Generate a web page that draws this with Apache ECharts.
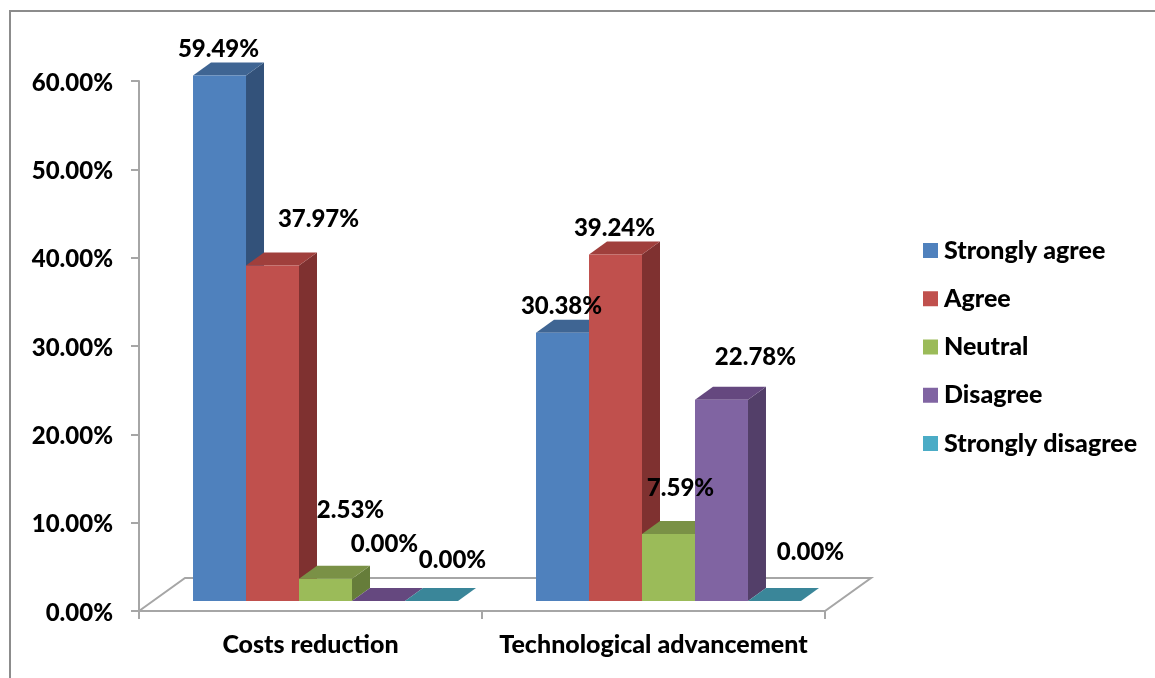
<!DOCTYPE html>
<html><head><meta charset="utf-8">
<style>html,body{margin:0;padding:0;background:#fff}#c{width:1155px;height:678px}</style>
<script src="https://cdn.jsdelivr.net/npm/echarts@6/dist/echarts.min.js"></script>
</head><body><div id="c"></div>
<script>
const categories = ['Costs reduction', 'Technological advancement'];
const yTicks = [0, 10, 20, 30, 40, 50, 60];
const stronglyAgree = [59.49, 30.38];
const agree = [37.97, 39.24];
const neutral = [2.53, 7.59];
const disagree = [0.00, 22.78];
const stronglyDisagree = [0.00, 0.00];

const names = ['Strongly agree', 'Agree', 'Neutral', 'Disagree', 'Strongly disagree'];
const values = [stronglyAgree, agree, neutral, disagree, stronglyDisagree];
const fronts = ['#4f81bd', '#c0504d', '#9bbb59', '#8064a2', '#4bacc6'];
const tops = ['#3f6593', '#a03f3c', '#7a9146', '#65487f', '#3a8699'];
const sides = ['#33527a', '#7f3130', '#667d3a', '#533f69', '#2f6f80'];
// hand placement of each data label relative to its bar's front-top centre
const labelShift = [
  [[-1, -26], [-1, -26]],
  [[46, -46], [-1, -26]],
  [[25, -68], [12, -46]],
  [[6, -57], [34, -43]],
  [[21, -41], [36, -49]]
];

const FONT = 'Lato';
const WEIGHT = 900;
const FS_NUM = 24;
const FS_TXT = 25;
const GREY = '#a6a6a6';
const floorDx = 46, floorDy = 33, baseDx = 15, baseDy = 10, depthDx = 18, depthDy = 13, barShare = 0.1545;

function barSeries(i) {
  return {
    name: names[i], type: 'custom', coordinateSystem: 'cartesian2d', clip: false,
    itemStyle: { color: fronts[i] },
    encode: { x: 0, y: 1 },
    data: values[i].map((v, c) => [c, v]),
    renderItem(params, api) {
      const c = api.value(0), v = api.value(1);
      const base = api.coord([c, 0]), top = api.coord([c, v]);
      const band = api.size([1, 0])[0], w = band * barShare;
      const x0 = base[0] + baseDx - 2.5 * w + i * w, x1 = x0 + w;
      const yb = base[1] - baseDy, yt = top[1] - baseDy;
      const ch = [];
      const poly = (pts, fill) => ch.push({ type: 'polygon', shape: { points: pts }, style: { fill: fill }, z2: i + 1 });
      if (v > 0) {
        poly([[x1, yt], [x1 + depthDx, yt - depthDy], [x1 + depthDx, yb - depthDy], [x1, yb]], sides[i]);
      }
      poly([[x0, yt], [x0 + depthDx, yt - depthDy], [x1 + depthDx, yt - depthDy], [x1, yt]], tops[i]);
      if (v > 0) {
        ch.push({ type: 'rect', shape: { x: x0, y: yt, width: w, height: yb - yt }, style: { fill: fronts[i] }, z2: i + 1 });
      }
      const s = labelShift[i][c];
      ch.push({
        type: 'text', z2: 100,
        style: {
          text: v.toFixed(2) + '%', x: (x0 + x1) / 2 + s[0], y: yt + s[1],
          align: 'center', verticalAlign: 'middle',
          font: WEIGHT + ' ' + FS_NUM + 'px ' + FONT, fill: '#000'
        }
      });
      return { type: 'group', children: ch };
    }
  };
}

const floor = {
  name: 'floor', type: 'custom', coordinateSystem: 'cartesian2d', clip: false, z: 1, silent: true,
  data: [[0, 0]], encode: { x: 0, y: 1 },
  renderItem(params) {
    const g = params.coordSys, b = g.y + g.height, r = g.x + g.width;
    return { type: 'polygon', shape: { points: [[g.x, b], [g.x + floorDx, b - floorDy], [r + floorDx, b - floorDy], [r, b]] },
      style: { fill: '#fff', stroke: GREY, lineWidth: 2 } };
  }
};

const chart = echarts.init(document.getElementById('c'), null, { renderer: 'canvas' });
chart.setOption({
  animation: false,
  backgroundColor: '#fff',
  grid: { left: 139, top: 81, width: 686, height: 530 },
  legend: {
    data: names, orient: 'vertical', left: 923, top: 238, icon: 'rect',
    itemWidth: 15, itemHeight: 15, itemGap: 23.25, padding: 0,
    textStyle: { fontFamily: FONT, fontWeight: WEIGHT, fontSize: FS_TXT, color: '#000', lineHeight: 25, padding: [0, 0, 0, 1] }
  },
  xAxis: {
    type: 'category', data: categories, boundaryGap: true,
    axisLine: { show: true, lineStyle: { color: GREY, width: 2 } },
    axisTick: { show: true, length: 8, alignWithLabel: false, lineStyle: { color: GREY, width: 2 } },
    axisLabel: { fontFamily: FONT, fontWeight: WEIGHT, fontSize: FS_TXT, color: '#000', margin: 21, interval: 0 },
    splitLine: { show: false }
  },
  yAxis: {
    type: 'value', min: yTicks[0], max: yTicks[yTicks.length - 1], interval: yTicks[1] - yTicks[0],
    axisLine: { show: true, lineStyle: { color: GREY, width: 2 } },
    axisTick: { show: true, length: 8, lineStyle: { color: GREY, width: 2 } },
    axisLabel: { fontFamily: FONT, fontWeight: WEIGHT, fontSize: FS_NUM, color: '#000', margin: 26, verticalAlign: 'top', lineHeight: 4, formatter: v => v.toFixed(2) + '%' },
    splitLine: { show: false }
  },
  graphic: [{
    type: 'polyline', silent: true,
    shape: { points: [[10, 678], [10, 11], [1155, 11]] },
    style: { stroke: '#8c8c8c', lineWidth: 2, fill: null }
  }],
  series: [floor].concat(names.map((_, i) => barSeries(i)))
});
</script></body></html>
